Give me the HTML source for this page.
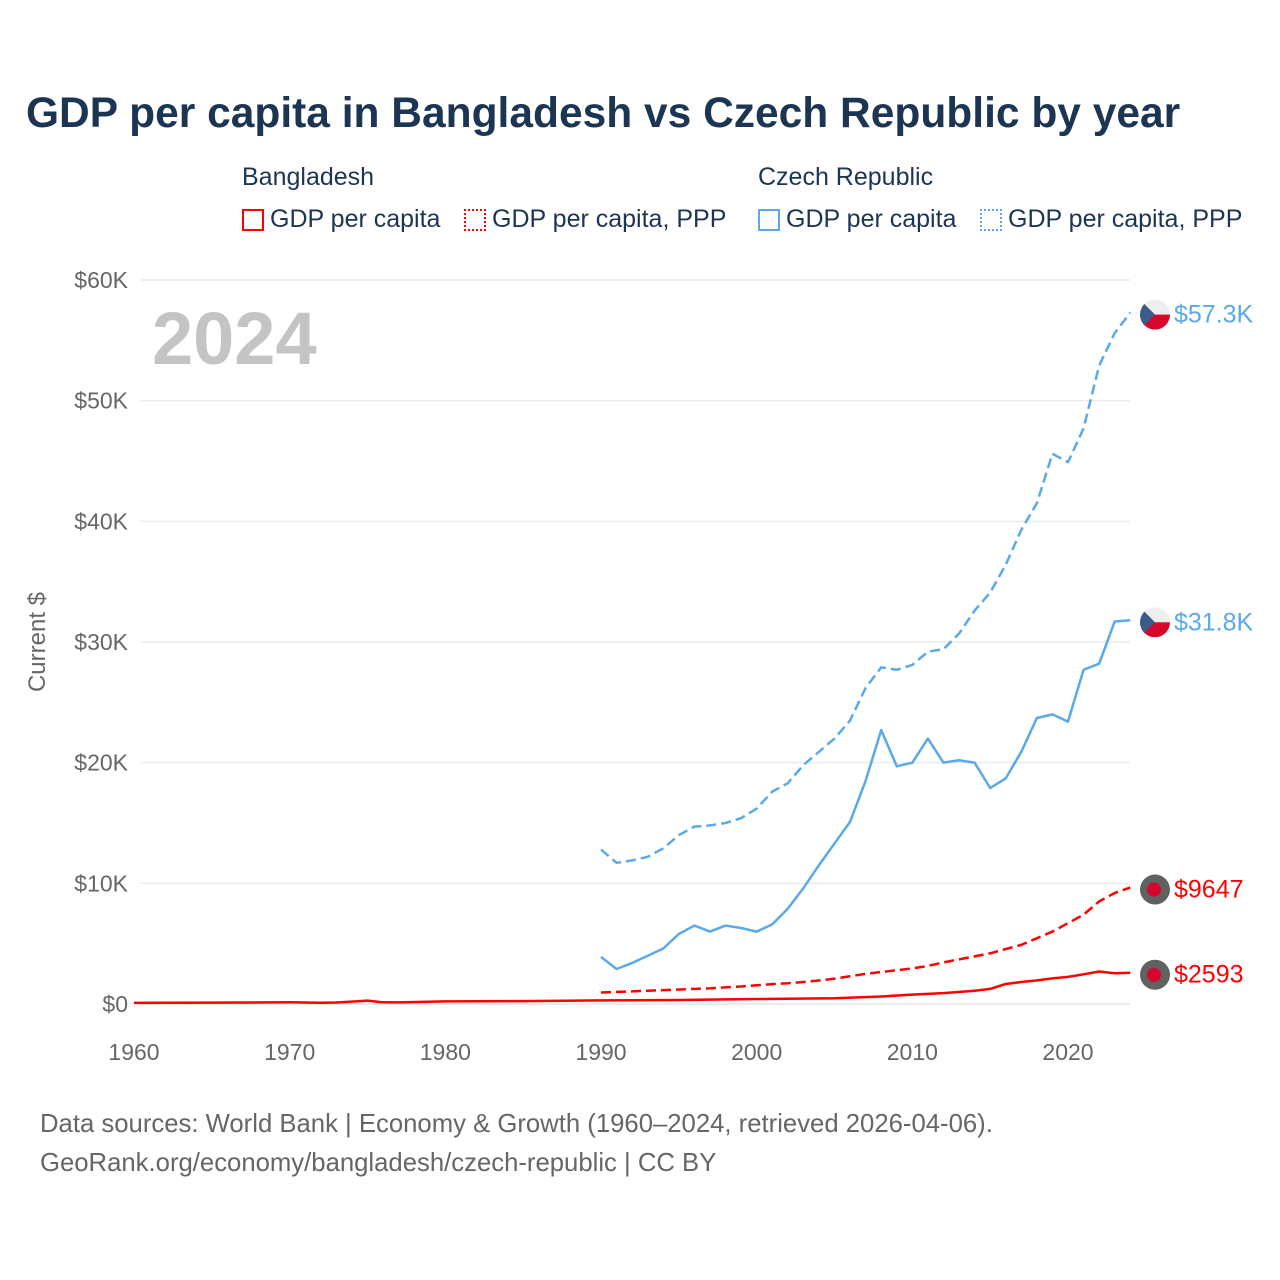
<!DOCTYPE html>
<html><head><meta charset="utf-8">
<style>
body{margin:0;background:#fff;font-family:"Liberation Sans",sans-serif;}
#wrap{position:relative;width:1280px;height:1280px;overflow:hidden;}
.t{position:absolute;white-space:nowrap;}
.sw{display:inline-block;width:22px;height:22px;box-sizing:border-box;vertical-align:-4px;margin-right:6px;}
</style></head>
<body>
<div id="wrap">
<div class="t" style="left:26px;top:90px;font-size:42.5px;font-weight:bold;color:#1c3553;">GDP per capita in Bangladesh vs Czech Republic by year</div>
<div class="t" style="left:242px;top:163px;font-size:25px;color:#1c3553;">Bangladesh</div>
<div class="t" style="left:758px;top:163px;font-size:25px;color:#1c3553;">Czech Republic</div>
<div class="t" style="left:242px;top:205px;font-size:25px;color:#1c3553;"><span class="sw" style="border:2px solid #f00"></span>GDP per capita</div>
<div class="t" style="left:464px;top:205px;font-size:25px;color:#1c3553;"><span class="sw" style="border:2px dotted #f00"></span>GDP per capita, PPP</div>
<div class="t" style="left:758px;top:205px;font-size:25px;color:#1c3553;"><span class="sw" style="border:2px solid #5aa9ea"></span>GDP per capita</div>
<div class="t" style="left:980px;top:205px;font-size:25px;color:#1c3553;"><span class="sw" style="border:2px dotted #5aa9ea"></span>GDP per capita, PPP</div>
<div class="t" style="left:152px;top:296px;font-size:74px;font-weight:bold;color:#c4c4c4;">2024</div>
<div class="t" style="left:-12px;top:628px;font-size:24px;color:#666;transform:rotate(-90deg);">Current $</div>
<svg id="chart" width="1280" height="1280" style="position:absolute;left:0;top:0"></svg>
<div class="t" style="left:40px;top:1105px;font-size:25.7px;color:#666;line-height:39px;">Data sources: World Bank | Economy &amp; Growth (1960–2024, retrieved 2026-04-06).<br>GeoRank.org/economy/bangladesh/czech-republic | CC BY</div>
</div>
<script>
const yTicks=[0,10,20,30,40,50,60];
const xTicks=[1960,1970,1980,1990,2000,2010,2020];
const czYears=[1990,1991,1992,1993,1994,1995,1996,1997,1998,1999,2000,2001,2002,2003,2004,2005,2006,2007,2008,2009,2010,2011,2012,2013,2014,2015,2016,2017,2018,2019,2020,2021,2022,2023,2024];
const czGdp=[3.9,2.9,3.4,4.0,4.6,5.8,6.5,6.0,6.5,6.3,6.0,6.6,7.9,9.6,11.5,13.3,15.1,18.5,22.7,19.7,20.0,22.0,20.0,20.2,20.0,17.9,18.7,20.9,23.7,24.0,23.4,27.7,28.2,31.7,31.8];
const czPpp=[12.8,11.7,11.9,12.2,12.9,14.0,14.7,14.8,15.0,15.4,16.2,17.6,18.3,19.8,20.9,22.0,23.5,26.2,27.9,27.7,28.1,29.2,29.4,30.7,32.6,34.1,36.4,39.3,41.5,45.6,44.9,47.7,52.9,55.6,57.3];
const bdPppYears=czYears;
const bdPpp=[0.95,1.0,1.05,1.1,1.15,1.2,1.25,1.3,1.38,1.45,1.55,1.65,1.72,1.82,1.95,2.1,2.3,2.5,2.65,2.8,2.95,3.15,3.45,3.7,3.95,4.2,4.55,4.9,5.45,6.0,6.7,7.4,8.5,9.2,9.65];
const bdGdpYears=[1960,1965,1970,1972,1973,1974,1975,1976,1977,1980,1985,1990,1995,2000,2005,2008,2010,2012,2014,2015,2016,2017,2018,2019,2020,2021,2022,2023,2024];
const bdGdp=[0.09,0.11,0.14,0.1,0.12,0.2,0.28,0.14,0.13,0.22,0.24,0.3,0.33,0.41,0.48,0.62,0.78,0.9,1.1,1.25,1.66,1.82,1.96,2.12,2.25,2.46,2.69,2.55,2.59];
const endLabels=["$57.3K","$31.8K","$9647","$2593"];
const svg=document.getElementById('chart');
const NS='http://www.w3.org/2000/svg';
const X=y=>134+(y-1960)*(1068-134)/60;
const Y=v=>1004-v*(1004-280)/60;
function mk(t,a){const e=document.createElementNS(NS,t);for(const k in a)e.setAttribute(k,a[k]);svg.appendChild(e);return e;}
yTicks.forEach(v=>{
 const l=mk('line',{x1:140,x2:1130,y1:Y(v),y2:Y(v),stroke:'#ebebeb','stroke-width':v===0?2:1.5});
 
 
 const t=mk('text',{x:128,y:Y(v)+8,'text-anchor':'end','font-size':23,fill:'#666','font-family':'Liberation Sans'});
 t.textContent='$'+v+(v?'K':'');
 
 
});
xTicks.forEach(v=>{
 const t=mk('text',{x:X(v),y:1060,'text-anchor':'middle','font-size':23,fill:'#666','font-family':'Liberation Sans'});
 t.textContent=v;
 
 
});
function line(xs,vs,col,dash,name){
 const p=mk('polyline',{points:xs.map((x,i)=>X(x)+','+Y(vs[i])).join(' '),fill:'none',stroke:col,'stroke-width':2.5,'stroke-dasharray':dash,'stroke-linejoin':'round'});
 
 
}
line(czYears,czPpp,'#5aa9ea','10,5','line-czech-ppp');
line(czYears,czGdp,'#5aa9ea','','line-czech-gdp');
line(bdPppYears,bdPpp,'#f00','10,5','line-bangladesh-ppp');
line(bdGdpYears,bdGdp,'#f00','','line-bangladesh-gdp');
const ends=[[czPpp[czPpp.length-1],'cz','#5aa9ea'],[czGdp[czGdp.length-1],'cz','#5aa9ea'],[bdPpp[bdPpp.length-1],'bd','#f00'],[bdGdp[bdGdp.length-1],'bd','#f00']];
ends.forEach((e,i)=>{
 const cy=Y(e[0])+2,cx=1155;
 const g=document.createElementNS(NS,'g');svg.appendChild(g);
 
 
 if(e[1]==='cz'){
  g.innerHTML=`<clipPath id="c${i}"><circle cx="${cx}" cy="${cy}" r="15"/></clipPath><g clip-path="url(#c${i})"><rect x="${cx-15}" y="${cy-15}" width="30" height="15" fill="#eee"/><rect x="${cx-15}" y="${cy}" width="30" height="15" fill="#d7062a"/><polygon points="${cx-15},${cy-15} ${cx},${cy} ${cx-15},${cy+15}" fill="#3b5b89"/></g>`;
 } else {
  g.innerHTML=`<circle cx="${cx}" cy="${cy}" r="15" fill="#5e6360"/><circle cx="${cx-1}" cy="${cy}" r="7" fill="#d7062a"/>`;
 }
 const t=mk('text',{x:1174,y:Y(e[0])+10,'font-size':25,fill:e[2],'font-family':'Liberation Sans'});
 t.textContent=endLabels[i];
 
 
});
</script>
</body></html>
